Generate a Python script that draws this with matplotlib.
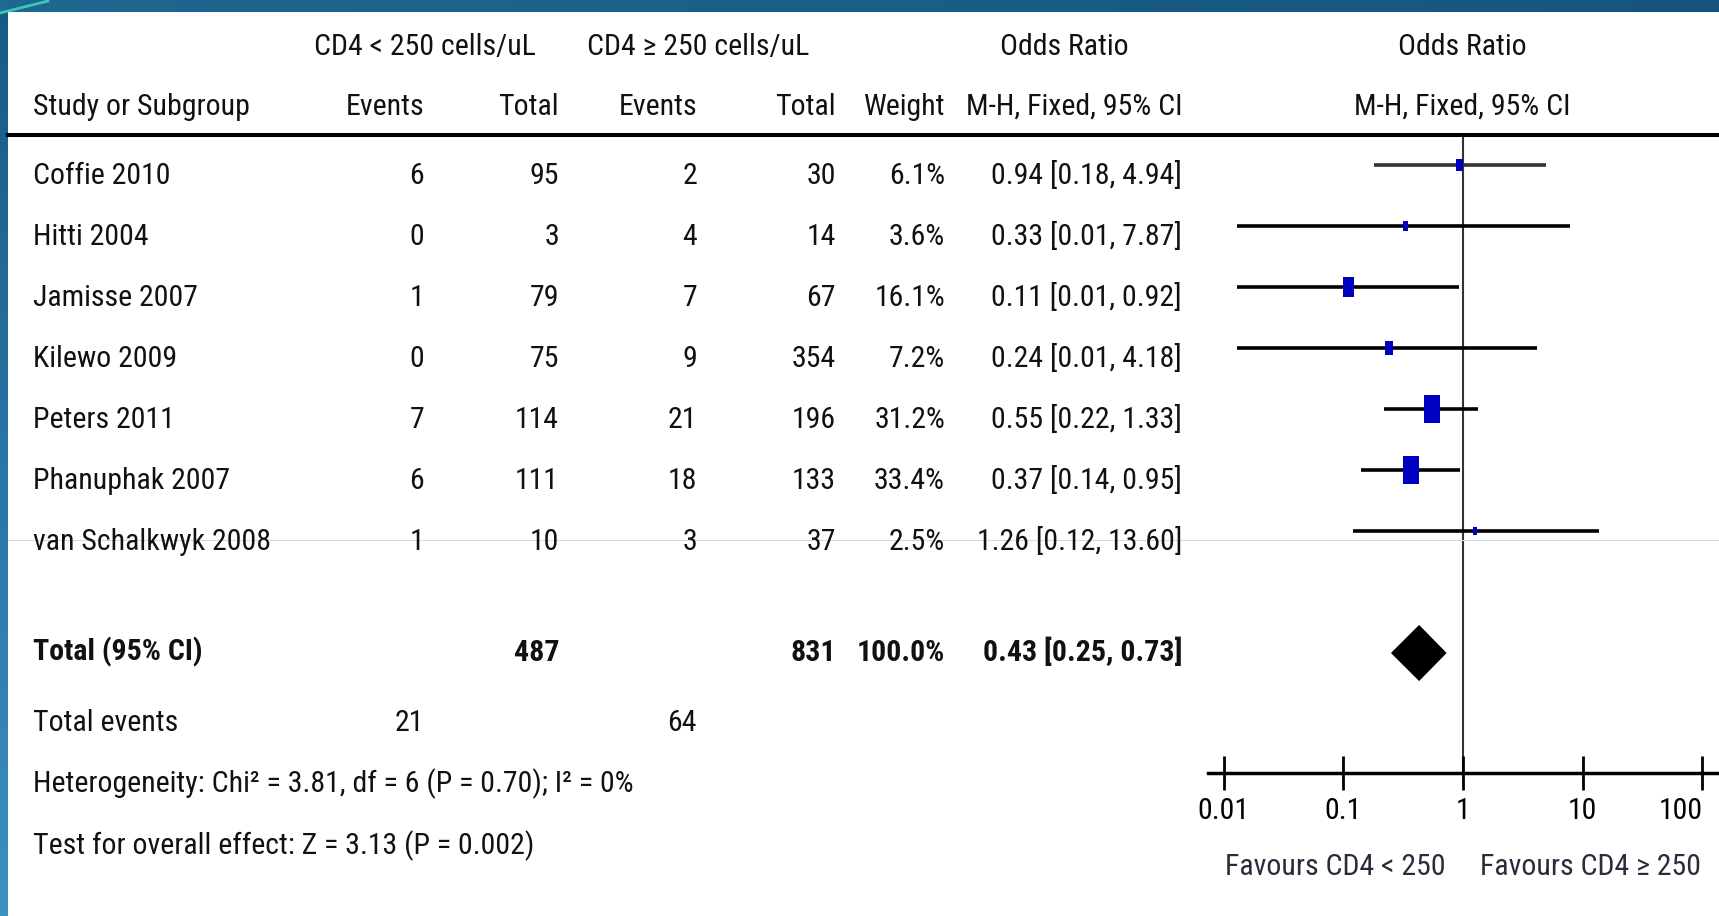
"""
Forest plot: CD4 < 250 vs CD4 >= 250 cells/uL, odds ratios (M-H, fixed).
"""

import numpy as np
import matplotlib
matplotlib.use('Agg')
import matplotlib.pyplot as plt
from matplotlib.lines import Line2D
from matplotlib.colors import LinearSegmentedColormap
from matplotlib.font_manager import fontManager
from matplotlib.ticker import NullLocator

# ---- data ----
studies = ['Coffie 2010', 'Hitti 2004', 'Jamisse 2007', 'Kilewo 2009',
           'Peters 2011', 'Phanuphak 2007', 'van Schalkwyk 2008']
events_low = [6, 0, 1, 0, 7, 6, 1]
total_low = [95, 3, 79, 75, 114, 111, 10]
events_high = [2, 4, 7, 9, 21, 18, 3]
total_high = [30, 14, 67, 354, 196, 133, 37]
weights = [6.1, 3.6, 16.1, 7.2, 31.2, 33.4, 2.5]
odds = [0.94, 0.33, 0.11, 0.24, 0.55, 0.37, 1.26]
ci_low = [0.18, 0.013, 0.013, 0.013, 0.22, 0.14, 0.12]
ci_high = [4.94, 7.87, 0.92, 4.18, 1.33, 0.95, 13.60]

pooled_or = 0.43
pooled_low = 0.25
pooled_high = 0.73
pooled_weight = 100.0
total_events = [21, 64]
chi2, df_het, p_het, i2 = 3.81, 6, 0.70, 0
z_val, p_val = 3.13, 0.002

tick_values = [0.01, 0.1, 1, 10, 100]
tick_labels = ['0.01', '0.1', '1', '10', '100']

# ---- layout (pixels of the 1719x916 output) ----
W, H = 1719, 916
INK = '#111111'
BOX = '#0000c0'
col_left = 33
col_ev1, col_tot1, col_ev2, col_tot2, col_wt, col_or = 424, 559, 697, 836, 945, 1182

installed = {f.name for f in fontManager.ttflist}
FAMILY = next((f for f in ['Liberation Sans Narrow', 'Roboto Condensed',
                           'Open Sans Condensed'] if f in installed), 'DejaVu Sans')
FAMS = [FAMILY, 'DejaVu Sans']

fig = plt.figure(figsize=(W / 100, H / 100), dpi=100, facecolor='white')

het_text = (f'Heterogeneity: Chi² = {chi2:.2f}, df = {df_het} '
            f'(P = {p_het:.2f}); I² = {i2}%')
test_text = f'Test for overall effect: Z = {z_val:.2f} (P = {p_val:.3f})'

# size the font so the heterogeneity line is as wide as in the reference
probe = fig.text(0, 0, het_text, fontsize=20, family=FAMS)
rend = fig.canvas.get_renderer()
FS = 20 * 600 / probe.get_window_extent(rend).width
probe.remove()
CAP = 0.72 * FS * 100 / 72


def put(x, yc, s, ha='left', weight='normal', color=INK):
    # yc is the visual centre of the capitals, in pixels from the top
    fig.text(x / W, 1 - (yc + CAP / 2) / H, s, ha=ha, va='baseline',
             fontsize=FS, family=FAMS, weight=weight, color=color)


# ---- frame decoration ----
top = fig.add_axes([0, 1 - 12 / H, 1, 12 / H])
top.imshow(np.linspace(0, 1, 256)[None, :], aspect='auto',
           cmap=LinearSegmentedColormap.from_list('t', ['#1f6892', '#155480']))
top.axis('off')
side = fig.add_axes([0, 0, 8 / W, 1 - 12 / H])
side.imshow(np.linspace(0, 1, 256)[:, None], aspect='auto',
            cmap=LinearSegmentedColormap.from_list('s', ['#175a85', '#3b90c4']))
side.axis('off')
fig.add_artist(Line2D([0, 48 / W], [1 - 13 / H, 1 - 1 / H], color='#3cc8b4', lw=2))

fig.add_artist(Line2D([8 / W, 1], [1 - 135 / H] * 2, color='black', lw=2.9))
fig.add_artist(Line2D([8 / W, 1], [1 - 540 / H] * 2, color='#cfdbe6', lw=0.8))

# ---- header ----
put(425, 44, 'CD4 < 250 cells/uL', ha='center')
put(698, 44, 'CD4 ≥ 250 cells/uL', ha='center')
put(1064, 44, 'Odds Ratio', ha='center')
put(1462, 44, 'Odds Ratio', ha='center')
put(col_left, 104, 'Study or Subgroup')
put(col_ev1, 104, 'Events', ha='right')
put(col_tot1, 104, 'Total', ha='right')
put(col_ev2, 104, 'Events', ha='right')
put(col_tot2, 104, 'Total', ha='right')
put(col_wt, 104, 'Weight', ha='right')
put(col_or, 104, 'M-H, Fixed, 95% CI', ha='right')
put(1462, 104, 'M-H, Fixed, 95% CI', ha='center')

# ---- study rows ----
for i, name in enumerate(studies):
    yc = 173 + 61 * i
    put(col_left, yc, name)
    put(col_ev1, yc, str(events_low[i]), ha='right')
    put(col_tot1, yc, str(total_low[i]), ha='right')
    put(col_ev2, yc, str(events_high[i]), ha='right')
    put(col_tot2, yc, str(total_high[i]), ha='right')
    put(col_wt, yc, f'{weights[i]:.1f}%', ha='right')
    put(col_or, yc, f'{odds[i]:.2f} [{ci_low[i]:.2f}, {ci_high[i]:.2f}]', ha='right')

# ---- totals ----
put(col_left, 650, 'Total (95% CI)', weight='bold')
put(col_tot1, 650, str(sum(total_low)), ha='right', weight='bold')
put(col_tot2, 650, str(sum(total_high)), ha='right', weight='bold')
put(col_wt, 650, f'{pooled_weight:.1f}%', ha='right', weight='bold')
put(col_or, 650, f'{pooled_or:.2f} [{pooled_low:.2f}, {pooled_high:.2f}]',
    ha='right', weight='bold')
put(col_left, 720, 'Total events')
put(col_ev1, 720, str(total_events[0]), ha='right')
put(col_ev2, 720, str(total_events[1]), ha='right')
put(col_left, 781, het_text)
put(col_left, 843, test_text)

# ---- forest panel ----
ax = fig.add_axes([1208 / W, 1 - 773 / H, (W - 1208) / W, (773 - 135) / H])
ax.set_xscale('log')
ax.set_xlim(10 ** (-255 / 119.7), 10 ** (256 / 119.7))
ax.set_ylim((773 - 165) / 61, (135 - 165) / 61)
ax.patch.set_alpha(0)

rows = np.arange(len(studies))
line_cols = ['#333333'] + ['black'] * (len(studies) - 1)
ax.hlines(rows, ci_low, ci_high, colors=line_cols, lw=2.6, zorder=2)

rect = [(-0.275, -0.5), (0.275, -0.5), (0.275, 0.5), (-0.275, 0.5), (-0.275, -0.5)]
box_h = 5 * np.sqrt(weights) * 0.72
ax.scatter(odds, rows, marker=rect, s=box_h ** 2, color=BOX, linewidths=0, zorder=3)

ax.fill([pooled_low, pooled_or, pooled_high, pooled_or],
        [8, 8 - 0.46, 8, 8 + 0.46], color='black', lw=0, zorder=3)

ax.axvline(1, color='#333333', lw=1.5, zorder=1)

for s in ['top', 'left', 'right']:
    ax.spines[s].set_visible(False)
ax.spines['bottom'].set_linewidth(2.5)
ax.set_yticks([])
ax.set_xticks(tick_values, tick_labels)
ax.xaxis.set_minor_locator(NullLocator())
ax.tick_params(axis='x', direction='inout', length=24.5, width=2, pad=5,
               labelsize=FS, colors='black')
for lab in ax.get_xticklabels():
    lab.set_family(FAMS)
# the last label sits against the right edge, as in the reference
last = ax.get_xticklabels()[-1]
last.set_horizontalalignment('right')

put(1335, 864, 'Favours CD4 < 250', ha='center', color='#2b2b3c')
put(1590, 864, 'Favours CD4 ≥ 250', ha='center', color='#2b2b3c')

fig.savefig('out.png', dpi=100, facecolor='white')
